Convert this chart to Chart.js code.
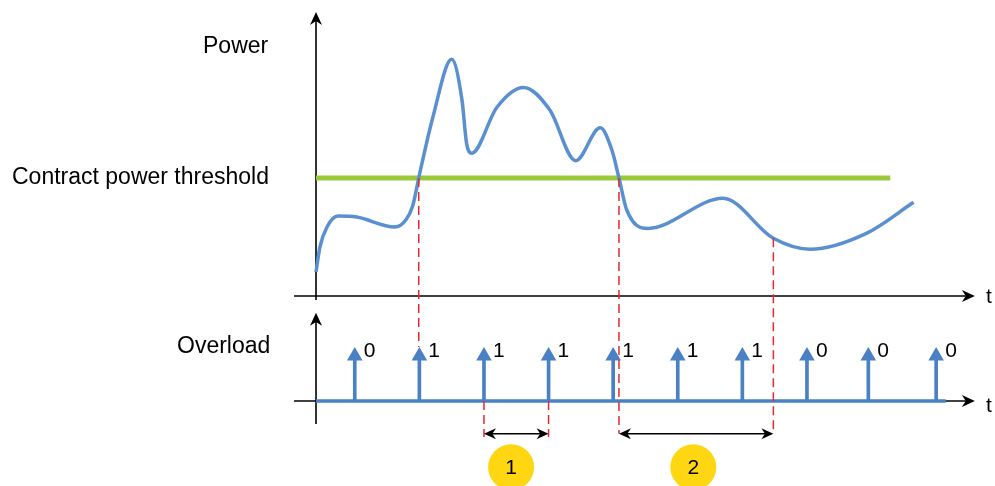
<!DOCTYPE html>
<html>
<head>
<meta charset="utf-8">
<title>Power / Overload</title>
<script src="https://cdn.jsdelivr.net/npm/chart.js@4/dist/chart.umd.min.js"></script>
<style>
  html, body { margin: 0; padding: 0; background: #fff; }
  #wrap { width: 995px; height: 486px; position: relative; }
</style>
</head>
<body>
<div id="wrap"><canvas id="chart"></canvas></div>
<script>
// power curve (time in sample periods, power with threshold = 100)
const powerTimes = [0, 0.06, 0.17, 0.34, 0.63, 1.22, 1.39, 1.5, 1.59, 1.81, 2.1, 2.26, 2.33, 2.41,
  2.8, 3.21, 3.62, 4.02, 4.4, 4.58, 4.69, 4.81, 5.14, 6.3, 7.08, 7.65, 8.52, 9.25];
const powerValues = [20.3, 41.5, 58.5, 67.8, 66.9, 58.5, 64.4, 77, 100, 151.7, 200.6, 166, 129.7, 121,
  160, 176.8, 157.6, 114.7, 142.6, 123.7, 100, 72.9, 57.3, 82.8, 48.9, 39.6, 53.1, 79.4];

const threshold = 100;
const thresholdSpan = [0, 8.89];

// sampling instants and the overload flag at each one
const sampleTimes = [0.6, 1.6, 2.6, 3.6, 4.6, 5.6, 6.6, 7.6, 8.55, 9.6];
const overloadValues = [0, 1, 1, 1, 1, 1, 1, 0, 0, 0];
const sampleHeight = 1;
const baselineSpan = [0, 9.75];

// red guides: from the curve down to the overload row
const guideTimes = [1.59, 4.69, 7.08];
const guideFrom = [100, 100, 48.9];
const guideTo = [1.2, -0.73, -0.73];
// red guides under the overload row
const lowGuideTimes = [2.6, 3.6];

// measured intervals and their badges
const intervalStart = [2.6, 4.69];
const intervalEnd = [3.6, 7.08];
const badgeTimes = [3.02, 5.84];
const badgeLabels = ["1", "2"];

const FONT = "Helvetica, Arial, 'Liberation Sans', sans-serif";
const BLUE = "#5a8fd0";
const PULSE = "#4a80c4";
const GREEN = "#99c93a";
const RED = "#e8282e";

/**
 * Draws a filled "classic" arrow head with its tip at (x, y).
 */
function arrowHead(ctx, x, y, angle, len, half) {
  ctx.save();
  ctx.translate(x, y);
  ctx.rotate(angle);
  ctx.beginPath();
  ctx.moveTo(0, 0);
  ctx.lineTo(-len, -half);
  ctx.lineTo(-len * 0.7, 0);
  ctx.lineTo(-len, half);
  ctx.closePath();
  ctx.fill();
  ctx.restore();
}

const decorations = {
  id: "decorations",
  beforeDatasetsDraw(chart) {
    const ctx = chart.ctx;
    const xs = chart.scales.x, yp = chart.scales.yP, yo = chart.scales.yO;
    const x0 = xs.getPixelForValue(0);
    ctx.save();
    ctx.strokeStyle = "#000";
    ctx.fillStyle = "#000";
    ctx.lineWidth = 1.6;

    // power axes
    let top = yp.getPixelForValue(240.7);
    ctx.beginPath();
    ctx.moveTo(x0, yp.getPixelForValue(-3.4));
    ctx.lineTo(x0, top + 6);
    ctx.stroke();
    arrowHead(ctx, x0, top, -Math.PI / 2, 13, 6);

    let right = xs.getPixelForValue(10.2);
    let ya = yp.getPixelForValue(0);
    ctx.beginPath();
    ctx.moveTo(xs.getPixelForValue(-0.34), ya);
    ctx.lineTo(right - 6, ya);
    ctx.stroke();
    arrowHead(ctx, right, ya, 0, 13, 6);

    // overload axes
    top = yo.getPixelForValue(1.96);
    ctx.beginPath();
    ctx.moveTo(x0, yo.getPixelForValue(-0.51));
    ctx.lineTo(x0, top + 6);
    ctx.stroke();
    arrowHead(ctx, x0, top, -Math.PI / 2, 13, 6);

    ya = yo.getPixelForValue(0);
    ctx.beginPath();
    ctx.moveTo(xs.getPixelForValue(-0.34), ya);
    ctx.lineTo(right - 6, ya);
    ctx.stroke();
    arrowHead(ctx, right, ya, 0, 13, 6);

    // texts
    ctx.font = "23px " + FONT;
    ctx.textBaseline = "alphabetic";
    ctx.textAlign = "left";
    ctx.fillText("Power", 203, 53);
    ctx.fillText("Contract power threshold", 12, yp.getPixelForValue(threshold) + 6);
    ctx.fillText("Overload", 177, 353);
    ctx.font = "21px " + FONT;
    ctx.fillText("t", 986, yp.getPixelForValue(0) + 7);
    ctx.fillText("t", 986, yo.getPixelForValue(0) + 11);
    ctx.restore();
  },
  afterDatasetsDraw(chart) {
    const ctx = chart.ctx;
    const xs = chart.scales.x, yp = chart.scales.yP, yo = chart.scales.yO;
    ctx.save();

    // overload values next to each sample
    ctx.fillStyle = "#000";
    ctx.font = "21px " + FONT;
    ctx.textAlign = "left";
    ctx.textBaseline = "alphabetic";
    sampleTimes.forEach((t, i) => {
      ctx.fillText(String(overloadValues[i]), xs.getPixelForValue(t) + 9,
        yo.getPixelForValue(sampleHeight) + 1);
    });

    // red dashed guides
    ctx.strokeStyle = RED;
    ctx.lineWidth = 1.5;
    ctx.setLineDash([9, 5]);
    guideTimes.forEach((t, i) => {
      const px = xs.getPixelForValue(t);
      ctx.beginPath();
      ctx.moveTo(px, yp.getPixelForValue(guideFrom[i]));
      ctx.lineTo(px, yo.getPixelForValue(guideTo[i]));
      ctx.stroke();
    });
    lowGuideTimes.forEach((t) => {
      const px = xs.getPixelForValue(t);
      ctx.beginPath();
      ctx.moveTo(px, yo.getPixelForValue(0));
      ctx.lineTo(px, yo.getPixelForValue(-0.8));
      ctx.stroke();
    });
    ctx.setLineDash([]);

    // interval arrows
    ctx.strokeStyle = "#000";
    ctx.fillStyle = "#000";
    ctx.lineWidth = 1.5;
    const ay = yo.getPixelForValue(-0.73);
    intervalStart.forEach((t, i) => {
      const a = xs.getPixelForValue(t), b = xs.getPixelForValue(intervalEnd[i]);
      ctx.beginPath();
      ctx.moveTo(a + 6, ay);
      ctx.lineTo(b - 6, ay);
      ctx.stroke();
      arrowHead(ctx, a, ay, Math.PI, 12, 5.5);
      arrowHead(ctx, b, ay, 0, 12, 5.5);
    });

    // badges
    const by = yo.getPixelForValue(-1.47);
    badgeTimes.forEach((t, i) => {
      const bx = xs.getPixelForValue(t);
      ctx.beginPath();
      ctx.arc(bx, by, 23, 0, Math.PI * 2);
      ctx.fillStyle = "#ffd612";
      ctx.fill();
      ctx.fillStyle = "#000";
      ctx.font = "21px " + FONT;
      ctx.textAlign = "center";
      ctx.textBaseline = "middle";
      ctx.fillText(badgeLabels[i], bx, by + 1);
    });
    ctx.restore();
  }
};

const powerPoints = powerTimes.map((t, i) => ({ x: t, y: powerValues[i] }));
const samplePoints = sampleTimes.map((t) => ({ x: t, y: sampleHeight }));

new Chart(document.getElementById("chart"), {
  type: "line",
  data: {
    datasets: [
      {
        label: "Power",
        data: powerPoints,
        yAxisID: "yP",
        borderColor: BLUE,
        borderWidth: 3.5,
        pointRadius: 0,
        cubicInterpolationMode: "monotone",
        fill: false,
        order: 2,
      },
      {
        label: "Contract power threshold",
        data: thresholdSpan.map((t) => ({ x: t, y: threshold })),
        yAxisID: "yP",
        borderColor: GREEN,
        borderWidth: 5,
        pointRadius: 0,
        fill: false,
        order: 3,
      },
      {
        label: "Baseline",
        data: baselineSpan.map((t) => ({ x: t, y: 0 })),
        yAxisID: "yO",
        borderColor: PULSE,
        borderWidth: 3.5,
        pointRadius: 0,
        fill: false,
        order: 1,
      },
      {
        type: "bar",
        label: "Samples",
        data: samplePoints,
        yAxisID: "yO",
        backgroundColor: PULSE,
        barThickness: 3,
        grouped: false,
        order: 1,
      },
      {
        label: "Sample heads",
        data: samplePoints,
        yAxisID: "yO",
        showLine: false,
        pointStyle: "triangle",
        pointRadius: 9,
        pointBackgroundColor: PULSE,
        pointBorderWidth: 0,
        order: 0,
      },
    ],
  },
  options: {
    responsive: true,
    maintainAspectRatio: false,
    animation: false,
    events: [],
    layout: { padding: 0, autoPadding: false },
    plugins: {
      legend: { display: false },
      title: { display: false },
      tooltip: { enabled: false },
    },
    scales: {
      x: { type: "linear", min: -4.892, max: 10.511, display: false, offset: false },
      yP: { type: "linear", min: -161.0, max: 250.85, display: false },
      yO: { type: "linear", min: -1.889, max: 8.911, display: false },
    },
  },
  plugins: [decorations],
});
</script>
</body>
</html>
